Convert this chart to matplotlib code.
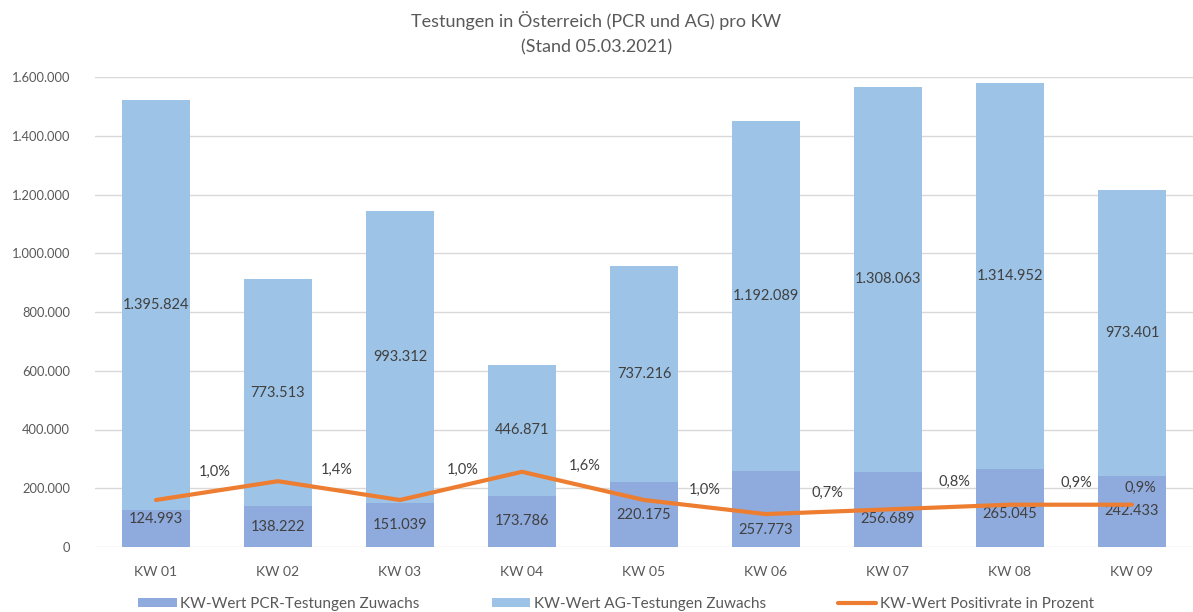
import numpy as np
import matplotlib.pyplot as plt
from matplotlib.ticker import FuncFormatter

plt.rcParams['font.family'] = ['Lato', 'DejaVu Sans']

# Data
weeks = ['KW 01', 'KW 02', 'KW 03', 'KW 04', 'KW 05', 'KW 06', 'KW 07', 'KW 08', 'KW 09']
pcr = [124993, 138222, 151039, 173786, 220175, 257773, 256689, 265045, 242433]
ag = [1395824, 773513, 993312, 446871, 737216, 1192089, 1308063, 1314952, 973401]
positiv = [1.0, 1.4, 1.0, 1.6, 1.0, 0.7, 0.8, 0.9, 0.9]

# label placement (offsets in points), like the hand-moved labels in the original
pct_offsets = [(42, 20), (42, 8), (45, 22), (45, 4), (44, 7), (44, 15), (48, 20), (48, 16), (6, 12)]
pcr_offsets = [7, 0, 0, 0, 0, -15, -7, -4, 0]

c_pcr = '#8FAADC'
c_ag = '#9DC3E6'
c_line = '#ED7D31'
c_text = '#595959'

def de_fmt(v):
    return f'{int(round(v)):,}'.replace(',', '.')

fig = plt.figure(figsize=(11.93, 6.12), dpi=100)
ax = fig.add_axes([95 / 1193, 1 - 547 / 612, 1098 / 1193, 470 / 612])

x = np.arange(len(weeks))
w = 0.56
bars_pcr = ax.bar(x, pcr, w, color=c_pcr, label='KW-Wert PCR-Testungen Zuwachs', zorder=2)
bars_ag = ax.bar(x, ag, w, bottom=pcr, color=c_ag, label='KW-Wert AG-Testungen Zuwachs', zorder=2)

ax.set_xlim(-0.5, len(weeks) - 0.5)
ax.set_ylim(0, 1600000)
ax.set_yticks(np.arange(0, 1600001, 200000))
ax.yaxis.set_major_formatter(FuncFormatter(lambda v, p: de_fmt(v)))
ax.set_xticks(x)
ax.set_xticklabels(weeks)
ax.tick_params(axis='both', length=0, colors=c_text)
ax.tick_params(axis='x', pad=14, labelsize=10)
ax.tick_params(axis='y', pad=18, labelsize=9.3)
ax.grid(axis='y', color='#D9D9D9', linewidth=1, zorder=0)
for s in ax.spines.values():
    s.set_visible(False)

# bar value labels
for i in range(len(weeks)):
    ax.annotate(de_fmt(pcr[i]), (x[i], pcr[i] / 2), xytext=(0, pcr_offsets[i]),
                textcoords='offset points', ha='center', va='center',
                fontsize=10.5, color='#404040', zorder=5)
    ax.annotate(de_fmt(ag[i]), (x[i], pcr[i] + ag[i] / 2), ha='center', va='center',
                fontsize=10.5, color='#404040', zorder=5)

# positivity rate on hidden secondary axis
ax2 = ax.twinx()
ax2.set_ylim(0, 10)
ax2.axis('off')
line, = ax2.plot(x, positiv, color=c_line, linewidth=3, solid_capstyle='round',
                 label='KW-Wert Positivrate in Prozent', zorder=3)
for i, v in enumerate(positiv):
    ax2.annotate(f'{v:.1f}%'.replace('.', ','), (x[i], v), xytext=pct_offsets[i],
                 textcoords='offset points', ha='center', va='center',
                 fontsize=10.5, color='#404040')

fig.text(0.5, 1 - 21 / 612, 'Testungen in Österreich (PCR und AG) pro KW',
         ha='center', va='center', fontsize=13, color=c_text)
fig.text(0.5, 1 - 47 / 612, '(Stand 05.03.2021)',
         ha='center', va='center', fontsize=13, color=c_text)

fig.legend(handles=[bars_pcr, bars_ag, line], loc='center',
           bbox_to_anchor=(616 / 1193, 1 - 604 / 612),
           ncol=3, frameon=False, fontsize=11, labelcolor=c_text, columnspacing=4.7,
           handlelength=2.5, handleheight=0.6, handletextpad=0.25)

fig.savefig('out.png', dpi=100)
